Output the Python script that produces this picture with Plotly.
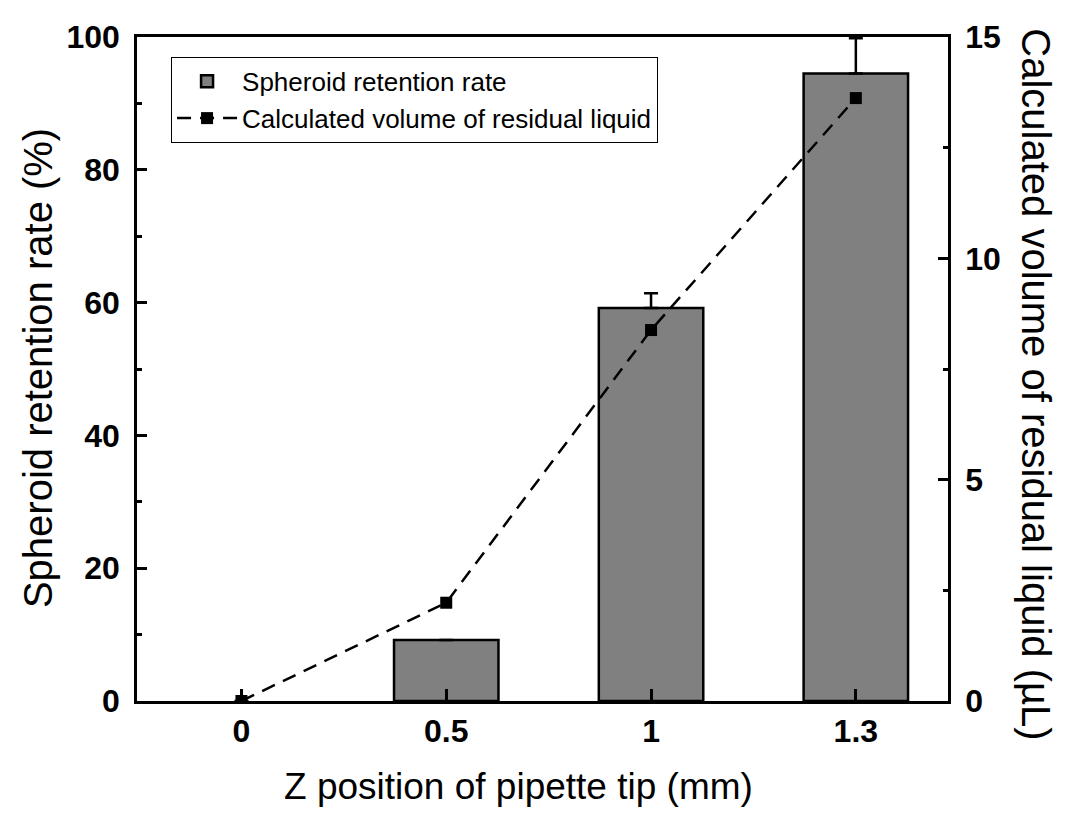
import plotly.graph_objects as go

categories = ["0", "0.5", "1", "1.3"]
retention = [0, 9.2, 59.2, 94.5]
retention_err = [0, 0, 2.2, 5.3]
volume = [0, 2.22, 8.38, 13.62]

xpos = list(range(len(categories)))
font = "Liberation Sans, Arial, sans-serif"
bar_name = "Spheroid retention rate"

fig = go.Figure()
# legend-only entry so the swatch keeps its outline
fig.add_trace(go.Bar(
    x=[None], y=[None], name=bar_name, legendgroup="bar",
    marker=dict(color="#808080", line=dict(color="black", width=2.5)),
))
fig.add_trace(go.Bar(
    x=xpos, y=retention, name=bar_name, legendgroup="bar", showlegend=False,
    marker=dict(color="#808080", line=dict(color="black", width=[0 if v == 0 else 2.5 for v in retention])),
    width=0.51,
    error_y=dict(type="data", array=retention_err, arrayminus=[0]*len(retention), symmetric=False,
                 color="black", thickness=2.5, width=7),
))
fig.add_trace(go.Scatter(
    x=xpos, y=volume, name="Calculated volume of residual liquid", yaxis="y2",
    mode="lines+markers",
    line=dict(color="black", width=2.5, dash="14px,9px"),
    marker=dict(symbol="square", size=12, color="black"),
))

tickfont = dict(size=32, family=font, weight="bold", color="black")

fig.update_layout(
    width=1050, height=803,
    margin=dict(l=129, r=110, t=29, b=110),
    paper_bgcolor="white", plot_bgcolor="white",
    font=dict(family=font, color="black"),
    showlegend=True, barmode="overlay",
    legend=dict(x=0.042, y=0.97, xanchor="left", yanchor="top",
                bordercolor="black", borderwidth=1, bgcolor="white",
                font=dict(size=26, family=font), tracegroupgap=0,
                itemwidth=60),
    xaxis=dict(range=[-0.51, 3.45], tickmode="array", tickvals=xpos, ticktext=categories,
               showline=True, linecolor="black", linewidth=2.5, mirror=True,
               ticks="inside", ticklen=12, tickwidth=2.5, tickcolor="black",
               tickfont=tickfont,
               showgrid=False, zeroline=False),
    yaxis=dict(range=[0, 100], tickvals=[0, 20, 40, 60, 80, 100],
               showline=True, linecolor="black", linewidth=2.5,
               ticks="inside", ticklen=10, tickwidth=2.5, tickcolor="black",
               ticklabelstandoff=8,
               minor=dict(ticks="inside", dtick=10, ticklen=5, tickwidth=2.5, tickcolor="black", showgrid=False),
               tickfont=tickfont,
               showgrid=False, zeroline=False),
    yaxis2=dict(range=[0, 15], tickvals=[0, 5, 10, 15], overlaying="y", side="right",
                showline=True, linecolor="black", linewidth=2.5,
                ticks="inside", ticklen=10, tickwidth=2.5, tickcolor="black",
                ticklabelstandoff=8,
                minor=dict(ticks="inside", dtick=2.5, ticklen=5, tickwidth=2.5, tickcolor="black", showgrid=False),
                tickfont=tickfont,
                showgrid=False, zeroline=False),
    annotations=[
        dict(text="Z position of pipette tip (mm)", xref="paper", yref="paper",
             x=0.471, y=-0.1295, xanchor="center", yanchor="middle", showarrow=False,
             font=dict(size=37, family=font)),
        dict(text="Spheroid retention rate (%)", xref="paper", yref="paper",
             x=-0.122, y=0.5015, xanchor="center", yanchor="middle", showarrow=False,
             textangle=-90, font=dict(size=40, family=font)),
        dict(text="Calculated volume of residual liquid (µL)", xref="paper", yref="paper",
             x=1.1085, y=0.477, xanchor="center", yanchor="middle", showarrow=False,
             textangle=90, font=dict(size=40, family=font)),
    ],
)

fig.write_html("out.html")
